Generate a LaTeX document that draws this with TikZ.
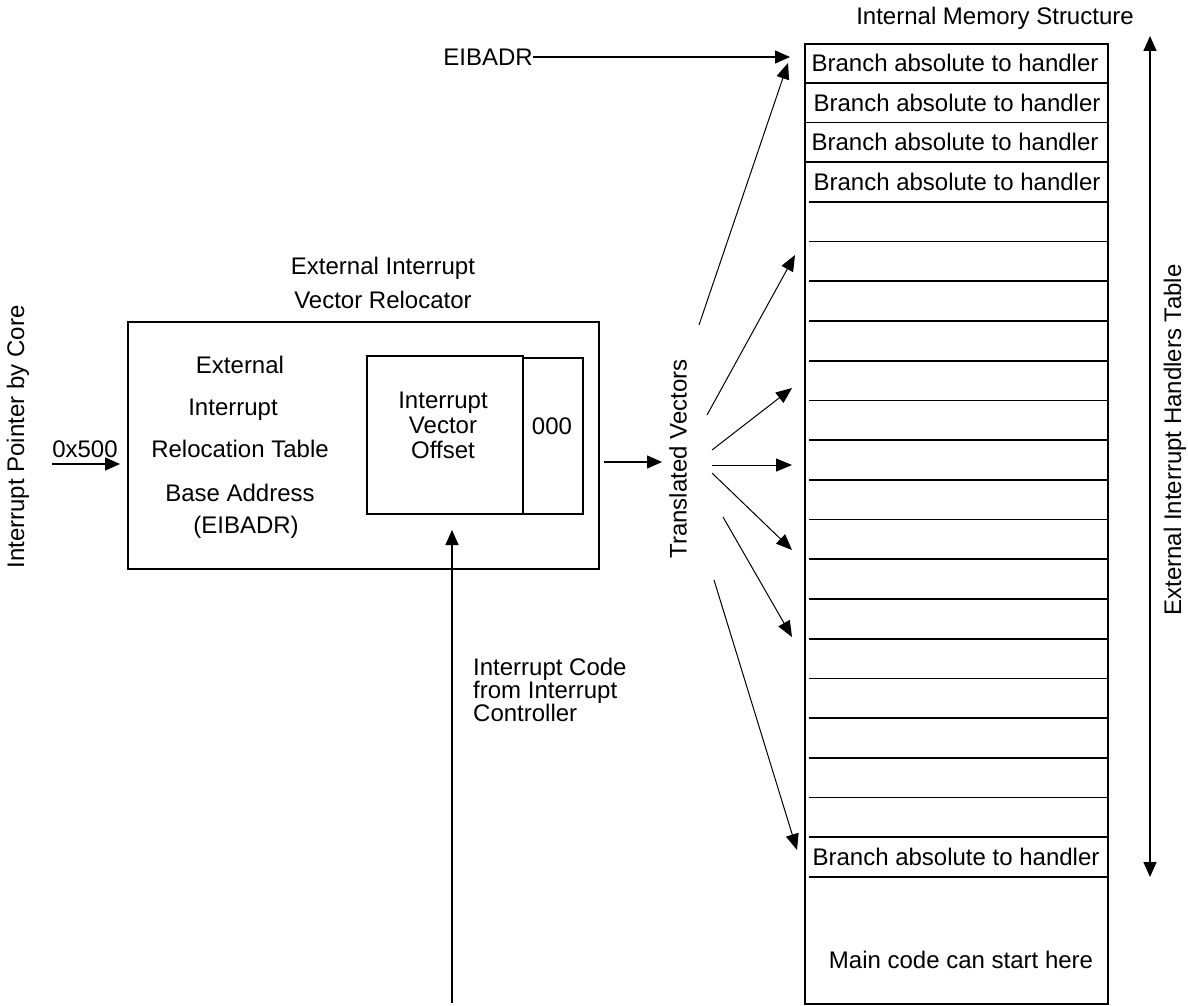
\documentclass[tikz,border=0pt]{standalone}
\usepackage{fontspec}
\setmainfont{Liberation Sans}
\usetikzlibrary{arrows.meta,positioning}

\begin{document}
\begin{tikzpicture}
[x=1pt,y=-1pt,
every node/.style={font=\fontsize{24}{29}\selectfont,inner sep=0pt},
box/.style={draw=black,line width=1.7pt},
arr/.style={-{Triangle[length=15pt,width=13pt]},line width=1.5pt},
fan/.style={-{Triangle[length=16pt,width=13pt]},line width=1pt}]
\useasboundingbox (0,0) rectangle (1188,1006);

\node (mst) at (995,18) {Internal Memory Structure};
\node[box,anchor=north west,minimum width=303pt,minimum height=960pt] (mem) at (804,43) {};
\foreach \k in {1,2,3}
  \draw[line width=1.7pt] (804,43+39.71*\k) -- (1107,43+39.71*\k);
\foreach \k in {4,...,21}
  \draw[line width=1.7pt] (809,43+39.71*\k) -- (1108,43+39.71*\k);
\node (b0) at (955,63) {Branch absolute to handler};
\node (b1) at (957,102.5) {Branch absolute to handler};
\node (b2) at (955,142) {Branch absolute to handler};
\node (b3) at (957,182) {Branch absolute to handler};
\node (b20) at (956,857) {Branch absolute to handler};
\node (main) at (961,960) {Main code can start here};

\coordinate (tt) at (1150,36);
\coordinate (tb) at (1150,877);
\draw[{Triangle[length=15pt,width=13pt]}-{Triangle[length=15pt,width=13pt]},line width=1.5pt] (tt) -- (tb);
\node[rotate=90] (eiht) at (1175,440) {External Interrupt Handlers Table};

\node (eib) at (488,57) {EIBADR};
\coordinate (eibt) at (790,57);
\draw[arr] (eib.east) -- (eibt);

\node[align=center,font=\fontsize{24}{34}\selectfont] (evrt) at (383,283) {External Interrupt\\Vector Relocator};
\node[box,anchor=north west,minimum width=471pt,minimum height=247pt] (evr) at (127,321) {};
\node (l1) at (240,365) {External};
\node (l2) at (233,410) {Interrupt};
\node (l3) at (240,449) {Relocation Table};
\node (l4) at (240,493) {Base Address};
\node (l5) at (246,527) {(EIBADR)};
\node[box,anchor=north west,minimum width=156pt,minimum height=158pt] (ivo) at (366,355) {};
\node[align=center,font=\fontsize{24}{25}\selectfont] (ivot) at (443,425) {Interrupt\\Vector\\Offset};
\node[box,anchor=north west,minimum width=60pt,minimum height=156pt] (zero) at (522,357) {};
\node (zerot) at (552,426) {000};

\node[rotate=90] (ipc) at (18,437) {Interrupt Pointer by Core};
\node (hex) at (85,449) {0x500};
\coordinate (pin) at (52,464);
\coordinate (pend) at (120,464);
\draw[arr] (pin) -- (pend);

\coordinate (icb) at (452,1003);
\coordinate (ict) at (452,530);
\draw[arr] (icb) -- (ict);
\node[align=left,anchor=west,font=\fontsize{24}{23}\selectfont] (icode) at (473,690) {Interrupt Code\\from Interrupt\\Controller};

\coordinate (tvs) at (604,462);
\coordinate (tve) at (662,462);
\draw[arr] (tvs) -- (tve);
\node[rotate=90] (tv) at (678,459) {Translated Vectors};

\foreach \n/\sx/\sy/\ex/\ey in {1/699/325/788/63, 2/707/415/795/255, 3/712/450/792/388,
  4/712/465/792/465, 5/712/473/792/550, 6/723/517/792/637, 7/714/580/797/850}
{
  \coordinate (fs\n) at (\sx,\sy);
  \coordinate (fe\n) at (\ex,\ey);
  \draw[fan] (fs\n) -- (fe\n);
}
\end{tikzpicture}
\end{document}
